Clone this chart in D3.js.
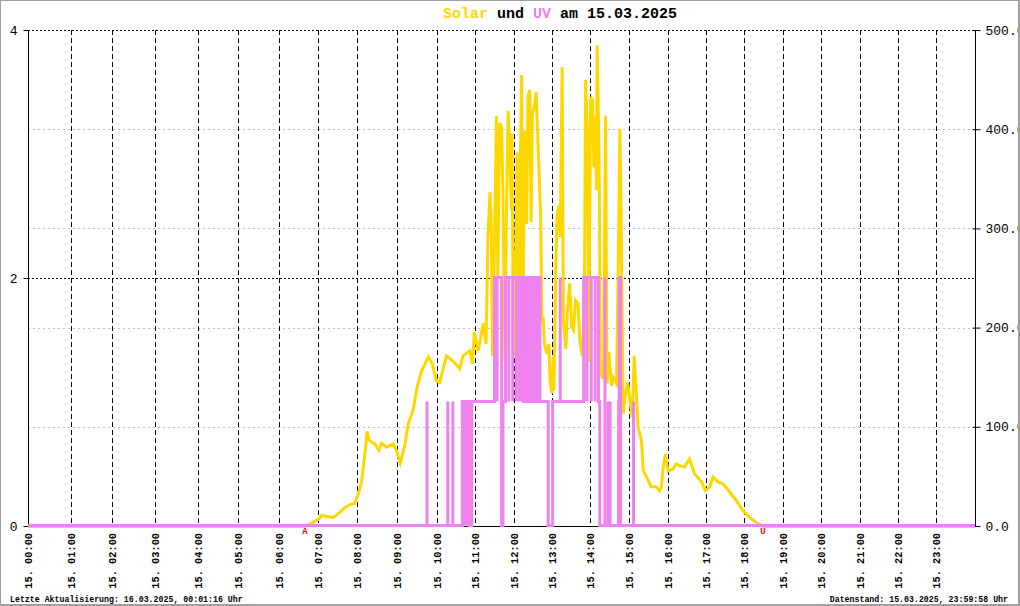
<!DOCTYPE html>
<html>
<head>
<meta charset="utf-8">
<script src="https://cdn.jsdelivr.net/npm/d3@7"></script>
<style>
  html, body { margin: 0; padding: 0; background: #fff; }
  svg { display: block; }
</style>
</head>
<body>
<script>
// ---------------- DATA ----------------
const titleDate = "15.03.2025";
const hourLabels = [
  "15. 00:00","15. 01:00","15. 02:00","15. 03:00","15. 04:00","15. 05:00",
  "15. 06:00","15. 07:00","15. 08:00","15. 09:00","15. 10:00","15. 11:00",
  "15. 12:00","15. 13:00","15. 14:00","15. 15:00","15. 16:00","15. 17:00",
  "15. 18:00","15. 19:00","15. 20:00","15. 21:00","15. 22:00","15. 23:00"
];
// number of stored records in each hour (the chart plots by record)
const recordsPerHour = [43,41,43,43,40,41,39,39,40,40,38,39,38,38,39,39,38,38,39,38,39,38,38,39];

const uvTicks = [0, 2, 4];
const solarTicks = [0, 100, 200, 300, 400, 500];
const solarTickLabels = ["0.0", "100.0", "200.0", "300.0", "400.0", "500.0"];

const sunrise = "06:40";
const sunset = "18:29";

// Solar radiation (W/m²)
const solarTimes = ["00:00","06:41","06:45","06:52","07:02","07:05","07:15","07:23","07:33","07:41","07:49","07:56",
  "08:02","08:07","08:10","08:13","08:15","08:18","08:27","08:33","08:37","08:44","08:54","08:59",
  "09:05","09:12","09:17","09:24","09:30","09:37","09:47","09:53","09:59",
  "10:04","10:15","10:25","10:36","10:41","10:52","10:56","10:59",
  "11:05","11:10","11:13","11:17","11:20","11:23","11:25","11:27","11:30","11:33","11:35","11:38","11:41","11:43","11:46","11:48","11:51","11:53","11:56","11:57","11:59",
  "12:03","12:05","12:08","12:10","12:12","12:14","12:17","12:20","12:22","12:25","12:27","12:29","12:33","12:35","12:38","12:42","12:44","12:46","12:48","12:52","12:55","12:57",
  "13:00","13:02","13:03","13:06","13:08","13:11","13:13","13:16","13:18","13:22","13:24","13:28","13:31","13:34","13:37","13:41","13:44","13:48","13:51","13:53","13:56","13:58",
  "14:01","14:04","14:06","14:08","14:10","14:11","14:14","14:16","14:19","14:21","14:24","14:26","14:29","14:33","14:36","14:41","14:44","14:46","14:48","14:51","14:55","14:58",
  "15:02","15:05","15:08","15:11","15:14","15:19","15:22","15:27","15:34","15:42","15:47","15:50","15:52","15:56",
  "16:00","16:08","16:13","16:19","16:26","16:34","16:42","16:53","16:59",
  "17:06","17:11","17:19","17:27","17:37","17:48","17:58",
  "18:09","18:19","18:27","18:29","24:00"];
const solarValues = [0,0,2,4,8,11,10,9,14,19,22,23,
  33,46,63,80,96,87,83,77,84,80,83,77,
  64,83,104,117,140,157,171,164,147,
  145,172,167,159,172,177,164,196,
  177,195,205,184,293,337,308,172,285,414,251,407,402,336,166,298,419,389,319,396,172,
  278,377,200,366,455,200,399,305,434,440,307,416,426,438,384,315,206,211,184,174,184,147,
  134,172,137,261,313,323,292,463,205,179,215,245,201,198,228,225,187,172,218,450,399,166,
  433,429,362,413,339,485,372,161,149,164,414,144,176,142,150,144,292,401,307,114,135,145,
  124,110,172,137,100,87,56,50,40,40,36,40,56,73,
  56,58,63,61,60,68,53,45,36,
  40,50,45,43,35,26,16,
  9,4,1,0,0];

// UV index: [time, value]; the value holds until the next entry
const uvSteps = [
  ["00:00",0],
  ["09:45",1],["09:45",0],
  ["10:17",1],["10:17",0],
  ["10:25",1],["10:25",0],
  ["10:40",1],["10:43",0],["10:43",1],["10:47",0],["10:47",1],["10:51",0],["10:55",1],
  ["11:30",2],["11:34",1],["11:34",2],["11:41",0],["11:43",1],
  ["11:47",2],["11:52",1],["11:52",2],["11:58",1],["11:58",2],
  ["12:04",1],["12:04",2],["12:08",1],["12:08",2],["12:12",1],["12:12",2],
  ["12:15",1],["12:16",2],["12:17",1],["12:18",2],["12:19",1],["12:20",2],["12:21",1],["12:22",2],
  ["12:23",1],["12:24",2],["12:25",1],["12:26",2],["12:27",1],["12:28",2],["12:29",1],["12:30",2],
  ["12:31",1],["12:32",2],["12:33",1],["12:34",2],["12:35",1],["12:36",2],["12:37",1],["12:38",2],
  ["12:39",1],["12:40",2],["12:41",1],
  ["12:54",0],["13:01",1],
  ["13:13",2],["13:13",1],
  ["13:50",2],["13:55",1],["13:55",2],["14:02",1],["14:02",2],["14:08",1],["14:08",2],
  ["14:13",1],["14:15",0],
  ["14:23",2],["14:23",0],
  ["14:28",1],["14:28",0],["14:31",1],["14:31",0],
  ["14:44",1],["14:45",2],["14:47",0],
  ["15:07",1],["15:07",0],
  ["24:00",0]
];

// ---------------- CHART ----------------
const W = 1020, H = 606;
const plotLeft = 28, plotTop = 30, plotBottom = 526;
const solarColor = "#FFD700", uvColor = "#EE82EE";

const toHours = s => { const [h, m] = s.split(":").map(Number); return h + m / 60; };

const cum = [0];
recordsPerHour.forEach(r => cum.push(cum[cum.length - 1] + r));
const x = d3.scaleLinear().domain(d3.range(25)).range(cum.map(c => plotLeft + c));
const plotRight = x(24);
const yUV = d3.scaleLinear().domain([0, 4]).range([plotBottom, plotTop]);
const ySolar = d3.scaleLinear().domain([0, 500]).range([plotBottom, plotTop]);

const svg = d3.select("body").append("svg").attr("width", W).attr("height", H);
svg.append("rect").attr("width", W).attr("height", H).attr("fill", "#fff");

const crisp = v => Math.round(v) + 0.5;

// Gray dashed grid (solar)
svg.append("g").selectAll("line").data(solarTicks.filter(d => d > 0 && d < 500)).join("line")
  .attr("x1", plotLeft).attr("x2", plotRight)
  .attr("y1", d => crisp(ySolar(d))).attr("y2", d => crisp(ySolar(d)))
  .attr("stroke", "#c0c0c0").attr("stroke-width", 1).attr("stroke-dasharray", "2,3");

// Black dotted grid (UV)
svg.append("g").selectAll("line").data(uvTicks.filter(d => d > 0)).join("line")
  .attr("x1", plotLeft).attr("x2", plotRight)
  .attr("y1", d => crisp(yUV(d))).attr("y2", d => crisp(yUV(d)))
  .attr("stroke", "#000").attr("stroke-width", 1).attr("stroke-dasharray", "2,2");

// Hour lines
svg.append("g").selectAll("line").data(d3.range(1, 24)).join("line")
  .attr("x1", d => crisp(x(d))).attr("x2", d => crisp(x(d)))
  .attr("y1", plotTop).attr("y2", plotBottom)
  .attr("stroke", "#000").attr("stroke-width", 1).attr("stroke-dasharray", "5,3");

// Axes
const axL = d3.axisLeft(yUV).tickValues(uvTicks).tickSize(5).tickPadding(6).tickFormat(d3.format("d"));
const gL = svg.append("g").attr("transform", `translate(${plotLeft + 0.5},0)`).call(axL);
const axR = d3.axisRight(ySolar).tickValues(solarTicks).tickSize(5).tickPadding(5)
  .tickFormat((d, i) => solarTickLabels[i]);
const gR = svg.append("g").attr("transform", `translate(${Math.round(plotRight) + 0.5},0)`).call(axR);
[gL, gR].forEach(g => {
  g.select(".domain").attr("stroke", "#000").attr("d", `M0,${plotTop}V${plotBottom}`);
  g.selectAll(".tick line").attr("stroke", "#000");
  g.selectAll("text").attr("font-family", "Liberation Mono, monospace").attr("font-size", "13px").attr("fill", "#000");
});
gR.selectAll(".tick line").attr("x1", -3);
svg.append("line").attr("x1", plotLeft).attr("x2", plotRight).attr("y1", plotBottom + 0.5).attr("y2", plotBottom + 0.5).attr("stroke", "#000");

// Solar line
const solarData = solarTimes.map((t, i) => [toHours(t), solarValues[i]]);
svg.append("path").datum(solarData)
  .attr("d", d3.line().x(d => x(d[0])).y(d => ySolar(d[1]) + 0.5))
  .attr("fill", "none").attr("stroke", solarColor).attr("stroke-width", 3).attr("stroke-linejoin", "miter");

// UV line
const uvData = uvSteps.map(d => [toHours(d[0]), d[1]]);
svg.append("path").datum(uvData)
  .attr("d", d3.line().curve(d3.curveStepAfter).x(d => x(d[0])).y(d => yUV(d[1]) - 0.5))
  .attr("fill", "none").attr("stroke", uvColor).attr("stroke-width", 3);

// Sunrise / sunset markers
svg.append("g").selectAll("text").data([[sunrise, "A"], [sunset, "U"]]).join("text")
  .attr("x", d => x(toHours(d[0]))).attr("y", 534)
  .attr("text-anchor", "middle").attr("fill", "#f00")
  .attr("font-family", "Liberation Mono, monospace").attr("font-size", "9px").attr("font-weight", "bold")
  .text(d => d[1]);

// Hour labels (rotated)
svg.append("g").selectAll("text").data(hourLabels).join("text")
  .attr("transform", (d, i) => `translate(${x(i) + 0.5},533) rotate(-90)`)
  .attr("text-anchor", "end").attr("dy", "0.35em")
  .attr("font-family", "Liberation Mono, monospace").attr("font-size", "10.3px").attr("font-weight", "bold")
  .attr("fill", "#000")
  .text(d => d);

// Title
const title = svg.append("text").attr("x", 443).attr("y", 18)
  .attr("font-family", "Liberation Mono, monospace").attr("font-size", "15px").attr("font-weight", "bold");
title.append("tspan").attr("fill", solarColor).text("Solar");
title.append("tspan").attr("fill", "#000").text(" und ");
title.append("tspan").attr("fill", uvColor).text("UV");
title.append("tspan").attr("fill", "#000").text(" am " + titleDate);

// Footer
svg.append("text").attr("x", 10).attr("y", 602)
  .attr("font-family", "Liberation Mono, monospace").attr("font-size", "8.25px").attr("font-weight", "bold")
  .text("Letzte Aktualisierung: 16.03.2025, 00:01:16 Uhr");
svg.append("text").attr("x", 1008).attr("y", 602).attr("text-anchor", "end")
  .attr("font-family", "Liberation Mono, monospace").attr("font-size", "8.25px").attr("font-weight", "bold")
  .text("Datenstand: 15.03.2025, 23:59:58 Uhr");

// Frame
svg.append("rect").attr("x", 0).attr("y", 0).attr("width", W - 1).attr("height", H - 1)
  .attr("fill", "none").attr("stroke", "#a0a0a0").attr("stroke-width", 2);
</script>
</body>
</html>
